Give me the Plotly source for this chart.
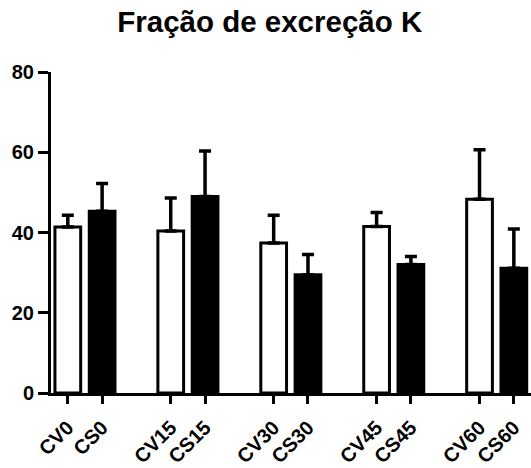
import plotly.graph_objects as go

groups = ["0", "15", "30", "45", "60"]
cv_labels = ["CV0", "CV15", "CV30", "CV45", "CV60"]
cs_labels = ["CS0", "CS15", "CS30", "CS45", "CS60"]
cv_values = [41.4, 40.4, 37.4, 41.5, 48.3]
cv_errors = [2.9, 8.2, 6.9, 3.5, 12.3]
cs_values = [45.3, 49.0, 29.5, 32.0, 31.1]
cs_errors = [6.9, 11.3, 5.0, 2.0, 9.8]
y_ticks = [0, 20, 40, 60, 80]

cv_x = [3 * i for i in range(len(groups))]
cs_x = [3 * i + 1 for i in range(len(groups))]

font_family = "Arial, Liberation Sans, sans-serif"

fig = go.Figure()
fig.add_trace(go.Bar(
    x=cv_x, y=cv_values, width=0.75,
    marker=dict(color="white", line=dict(color="black", width=3)),
    error_y=dict(type="data", array=cv_errors, arrayminus=[0] * 5, symmetric=False,
                 color="black", thickness=3.5, width=6),
    showlegend=False,
))
fig.add_trace(go.Bar(
    x=cs_x, y=cs_values, width=0.75,
    marker=dict(color="black", line=dict(color="black", width=3)),
    error_y=dict(type="data", array=cs_errors, arrayminus=[0] * 5, symmetric=False,
                 color="black", thickness=3.5, width=6),
    showlegend=False,
))

tickvals = []
ticktext = []
for i in range(len(groups)):
    tickvals += [cv_x[i], cs_x[i]]
    ticktext += [cv_labels[i], cs_labels[i]]

fig.update_layout(
    width=531, height=468,
    margin=dict(l=51, r=0, t=72, b=75, autoexpand=False),
    paper_bgcolor="white", plot_bgcolor="white",
    title=dict(text="Fração de excreção K", x=0.508, xref="container", xanchor="center",
               y=0.953, yref="container", yanchor="middle",
               font=dict(family=font_family, size=29.5, color="black", weight="bold")),
    barmode="overlay",
    font=dict(family=font_family, color="black"),
)
fig.update_xaxes(
    range=[-0.49, 13.5], tickvals=tickvals, ticktext=ticktext, tickangle=-45,
    showline=True, linecolor="black", linewidth=3, ticks="outside", ticklen=8,
    tickwidth=3, tickcolor="black", showgrid=False, zeroline=False, automargin=False,
    ticklabelstandoff=4,
    tickfont=dict(family=font_family, size=20, color="black", weight="bold"),
)
fig.update_yaxes(
    range=[0, 80], tickvals=y_ticks,
    showline=True, linecolor="black", linewidth=3, ticks="outside", ticklen=10,
    tickwidth=3, tickcolor="black", showgrid=False, zeroline=False, automargin=False,
    tickfont=dict(family=font_family, size=20, color="black", weight="bold"),
)

fig.write_html("out.html", config={"displayModeBar": False},
               post_script="document.body.style.margin='0';")
